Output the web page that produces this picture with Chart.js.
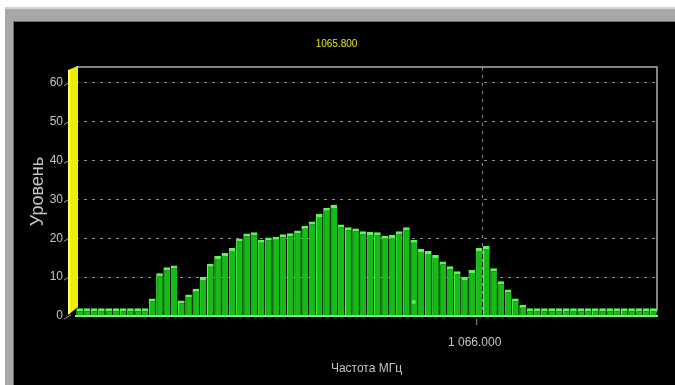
<!DOCTYPE html>
<html>
<head>
<meta charset="utf-8">
<script src="https://cdn.jsdelivr.net/npm/chart.js@4/dist/chart.umd.min.js"></script>
<style>
  html, body { margin: 0; padding: 0; background: #ffffff; }
  #frame { position: absolute; left: 5px; top: 7px; width: 670px; height: 378px;
           background: #a8a8a8; border-top: 2px solid #d4d4d4; box-sizing: border-box; }
  #inner { position: absolute; left: 13px; top: 21px; width: 662px; height: 364px;
           background: #000000; border-top: 1px solid #6a6a6a; border-left: 1px solid #6a6a6a; box-sizing: border-box; }
  #spectrum { position: absolute; left: 0; top: 0; }
</style>
</head>
<body>
<div id="frame"></div>
<div id="inner"></div>
<canvas id="spectrum" width="675" height="385"></canvas>
<script>
// Analyzer sweep: 1 MHz span around the centre frequency, 80 bins
const centerLabel = '1065.800';
const spanStart = 1065.3;   // MHz
const spanStop = 1066.3;    // MHz
const freqTicks = [1066.0];
const levelTicks = [0, 10, 20, 30, 40, 50, 60];

// Signal level per bin
const levels = [
  2, 2, 2, 2, 2, 2, 2, 2, 2, 2,
  4.5, 11, 12.5, 13, 4, 5.5, 7, 10, 13.4, 15.4,
  16.2, 17.5, 19.9, 21.2, 21.5, 19.6, 20.2, 20.4, 21, 21.3,
  22, 23.2, 24.3, 26.2, 27.8, 28.5, 23.5, 22.8, 22.5, 21.8,
  21.6, 21.5, 20.6, 20.8, 21.8, 22.8, 19.6, 17.2, 16.7, 15.7,
  14, 12.8, 11.5, 10, 11.8, 17.5, 18, 12.3, 8.9, 6.8,
  4.5, 2.9, 2, 2, 2, 2, 2, 2, 2, 2,
  2, 2, 2, 2, 2, 2, 2, 2, 2, 2
];

// Isolated minimum-hold marks
const markBins = [46];
const markLevels = [3.6];

const binWidth = (spanStop - spanStart) / levels.length;
const binFreqs = levels.map((_, i) => (spanStart + (i + 0.5) * binWidth).toFixed(4));
const marks = levels.map(() => null);
markBins.forEach((b, k) => { marks[b] = markLevels[k]; });

const FONT = "'Liberation Sans', Arial, sans-serif";
const TEXT = '#c4c4c4';
const GRID = '#8c8c8c';

function formatFreq(v) {
  const s = v.toFixed(3);
  const [intPart, frac] = s.split('.');
  return intPart.replace(/\B(?=(\d{3})+(?!\d))/g, ' ') + '.' + frac;
}

// Side wall, frame lines and slanted tick marks of the 3D plot box
const boxPlugin = {
  id: 'box3d',
  beforeDatasetsDraw(chart) {
    const { ctx, chartArea: a, scales } = chart;
    ctx.save();
    // top and right edges of the back plane
    ctx.strokeStyle = '#b0b0b0';
    ctx.lineWidth = 1.5;
    ctx.beginPath();
    ctx.moveTo(a.left, a.top);
    ctx.lineTo(a.right, a.top);
    ctx.lineTo(a.right, a.bottom - 6);
    ctx.lineTo(a.right - 3, a.bottom - 1);
    ctx.stroke();
    // slanted ticks from the labels to the wall
    ctx.strokeStyle = '#9a9a9a';
    ctx.lineWidth = 1;
    levelTicks.forEach(v => {
      const y = scales.y.getPixelForValue(v);
      ctx.beginPath();
      ctx.moveTo(a.left - 12, y + 3);
      ctx.lineTo(a.left - 5, y - 1);
      ctx.stroke();
    });
    // small tick on the front edge below the frequency mark
    freqTicks.forEach(f => {
      const x = scales.freq.getPixelForValue(f) - 6;
      ctx.beginPath();
      ctx.moveTo(x, a.bottom + 3);
      ctx.lineTo(x, a.bottom + 9);
      ctx.stroke();
    });
    // yellow side wall
    ctx.fillStyle = '#eeee00';
    ctx.beginPath();
    ctx.moveTo(a.left - 8, a.top + 3);
    ctx.lineTo(a.left + 2, a.top - 1);
    ctx.lineTo(a.left + 2, a.bottom - 9);
    ctx.lineTo(a.left - 8, a.bottom - 1);
    ctx.closePath();
    ctx.fill();
    ctx.fillStyle = '#ffff70';
    ctx.fillRect(a.left - 8, a.top + 3, 2, a.bottom - a.top - 5);
    ctx.restore();
  }
};

new Chart(document.getElementById('spectrum'), {
  type: 'bar',
  data: {
    labels: binFreqs,
    datasets: [
      {
        type: 'line',
        data: marks,
        xAxisID: 'xb',
        yAxisID: 'y',
        showLine: false,
        pointStyle: 'rect',
        pointRadius: 2.5,
        pointBackgroundColor: '#5cf05c',
        pointBorderWidth: 0,
        order: 0
      },
      {
        data: levels,
        xAxisID: 'xb',
        yAxisID: 'y',
        backgroundColor: '#16bc16',
        borderColor: '#5cf55c',
        borderWidth: { top: 3, left: 1, right: 0, bottom: 0 },
        borderSkipped: 'bottom',
        barPercentage: 0.92,
        categoryPercentage: 1,
        order: 1
      }
    ]
  },
  options: {
    responsive: false,
    animation: false,
    events: [],
    layout: { padding: { left: 16, right: 18, top: 21, bottom: 0 } },
    plugins: {
      legend: { display: false },
      tooltip: { enabled: false },
      title: {
        display: true,
        text: centerLabel,
        color: '#e6e600',
        font: { family: FONT, size: 10, weight: 'normal' },
        padding: { top: 17, bottom: 17 }
      }
    },
    scales: {
      xb: {
        type: 'category',
        display: false,
        offset: true,
        grid: { display: false }
      },
      freq: {
        type: 'linear',
        position: 'bottom',
        bounds: 'data',
        offset: false,
        min: spanStart,
        max: spanStop,
        afterBuildTicks: s => { s.ticks = freqTicks.map(v => ({ value: v })); },
        afterFit: s => { s.height = 69; },
        ticks: {
          callback: v => formatFreq(v),
          color: TEXT,
          font: { family: FONT, size: 12 },
          padding: 19,
          labelOffset: -8,
          maxRotation: 0,
          autoSkip: false
        },
        grid: { offset: false, color: GRID, lineWidth: 1, drawTicks: false },
        border: { display: true, color: '#72ff72', width: 2, dash: [3, 5] },
        title: {
          display: true,
          text: 'Частота МГц',
          color: TEXT,
          font: { family: FONT, size: 12 },
          padding: { top: 0, bottom: 9 }
        }
      },
      y: {
        min: 0,
        max: 64,
        afterBuildTicks: s => { s.ticks = levelTicks.map(v => ({ value: v })); },
        afterFit: s => { s.width = 60; },
        ticks: {
          color: TEXT,
          font: { family: FONT, size: 12 },
          padding: 13
        },
        grid: {
          drawTicks: false,
          lineWidth: 1,
          color: c => (c.tick && c.tick.value === 0 ? 'rgba(0,0,0,0)' : GRID)
        },
        border: { display: false, dash: [3, 5] },
        title: {
          display: true,
          text: 'Уровень',
          color: TEXT,
          font: { family: FONT, size: 18 },
          padding: { top: 11, bottom: 0 }
        }
      }
    }
  },
  plugins: [boxPlugin]
});
</script>
</body>
</html>
